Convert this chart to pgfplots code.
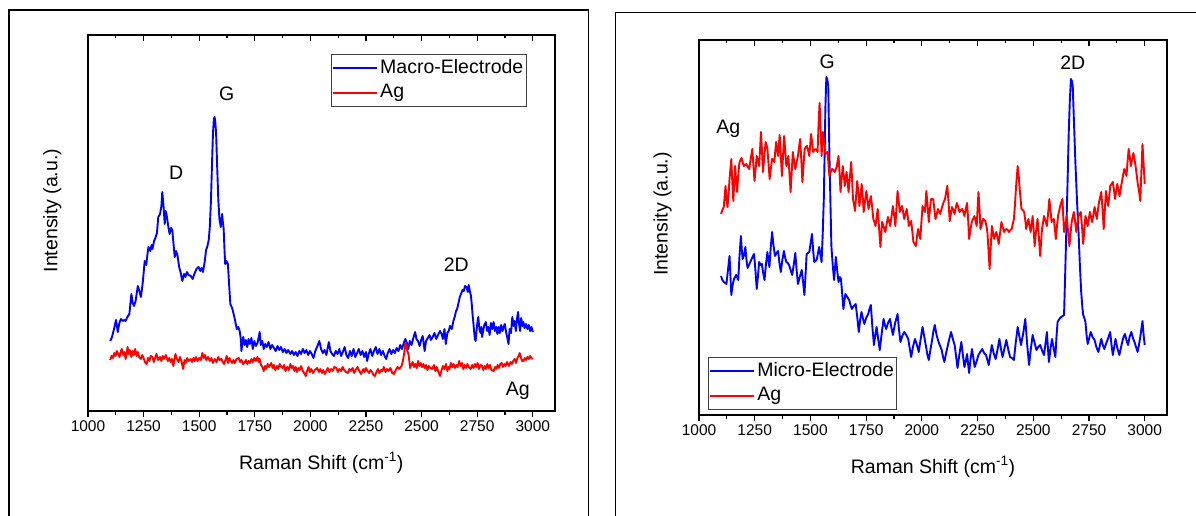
\documentclass[border=0pt]{standalone}
\usepackage{fontspec}
\setmainfont{Liberation Sans}
\usepackage{pgfplots}
\pgfplotsset{compat=1.18}
\definecolor{pblue}{RGB}{0,0,255}
\definecolor{pred}{RGB}{255,0,0}
\newcommand{\lblfont}{\fontsize{19.5bp}{23bp}\selectfont}
\newcommand{\tckfont}{\fontsize{15.5bp}{18bp}\selectfont}
\pgfplotsset{
  ramanbase/.style={
    scale only axis, xmin=1000, xmax=3100,
    xtick={1000,1250,...,3000}, minor x tick num=1,
    ytick=\empty,
    major tick length=6bp, minor tick length=3.5bp,
    line width=1.2bp,
    tick style={black, line width=1.1bp},
    /pgf/number format/assume math mode=true,
    /pgf/number format/set thousands separator={},
    xticklabel style={font=\tckfont},
    every axis plot/.append style={line width=1.9bp, line join=round},
  },
  mainax/.style={ramanbase, tick align=outside, xtick pos=bottom,
    xlabel={Raman Shift (cm\textsuperscript{-1})}, ylabel={Intensity (a.u.)},
    label style={font=\lblfont},
    legend cell align=left,
    legend style={draw=black!75, line width=1bp, font=\lblfont, inner xsep=1bp, inner ysep=2.7bp, row sep=2.5bp,
      nodes={inner sep=2bp, text height=14bp, text depth=4bp}},
    legend image code/.code={\draw[##1, line width=1.9bp] (0bp,0bp) -- (44bp,0bp);},
  },
  topax/.style={ramanbase, tick align=inside, axis x line*=top, axis y line=none, xticklabels={}},
}
\begin{document}
\begin{tikzpicture}
\useasboundingbox (0,0) rectangle (1196bp,516bp);
% ---------------- left panel ----------------
\begin{axis}[mainax, at={(88bp,105bp)}, anchor=south west, width=467bp, height=376bp, ymin=0, ymax=376,
  xlabel style={at={(axis description cs:0.4996,-0.138)}, anchor=center},
  ylabel style={at={(axis description cs:-0.0764,0.533)}, anchor=center, rotate=0},
  legend style={at={(0.520,0.9495)}, anchor=north west}]
\addplot[pblue] coordinates {
(1100,70)(1108,74)(1117,82)(1126,91)(1134,79)(1141,88)(1148,92)(1156,90)(1163,91)(1169,90)(1177,94)(1186,97)(1195,117)(1201,108)(1207,105)(1214,110)(1224,125)(1231,120)(1238,114)(1246,128)(1255,150)(1262,146)(1268,158)(1272,164)(1280,160)(1286,166)(1290,162)(1297,170)(1303,173)(1310,178)(1316,194)(1324,197)(1330,205)(1334,219)(1340,204)(1345,187)(1349,200)(1353,197)(1360,186)(1367,177)(1373,183)(1379,181)(1385,166)(1390,154)(1396,160)(1402,156)(1410,144)(1417,138)(1424,130)(1432,137)(1438,134)(1445,139)(1452,136)(1462,135)(1471,132)(1480,138)(1488,142)(1497,144)(1505,140)(1511,143)(1517,139)(1524,148)(1531,161)(1537,165)(1543,171)(1548,185)(1553,211)(1558,250)(1562,278)(1566,292)(1569,294)(1572,290)(1576,278)(1580,250)(1586,211)(1591,192)(1597,184)(1603,197)(1606,190)(1610,182)(1614,160)(1617,147)(1623,150)(1629,147)(1635,125)(1640,107)(1648,103)(1655,97)(1662,90)(1669,82)(1676,84)(1683,79)(1687,72)(1690,60)(1694,68)(1698,74)(1704,66)(1710,71)(1716,64)(1722,72)(1728,67)(1735,73)(1741,62)(1748,70)(1755,65)(1762,68)(1768,74)(1772,79)(1777,66)(1784,70)(1790,62)(1797,67)(1804,64)(1812,69)(1820,62)(1828,66)(1836,63)(1844,60)(1852,65)(1860,61)(1868,64)(1876,59)(1884,62)(1892,58)(1900,61)(1910,57)(1918,60)(1926,56)(1934,59)(1942,55)(1950,60)(1958,57)(1966,62)(1974,58)(1982,61)(1990,56)(1998,60)(2006,57)(2014,53)(2022,60)(2030,64)(2040,70)(2048,62)(2056,58)(2064,61)(2072,56)(2083,69)(2090,60)(2098,57)(2106,55)(2114,60)(2122,57)(2130,62)(2138,55)(2146,59)(2154,64)(2162,56)(2170,53)(2178,60)(2186,55)(2194,62)(2202,54)(2210,58)(2218,62)(2226,56)(2234,60)(2242,54)(2250,59)(2255,50)(2262,57)(2270,62)(2278,55)(2286,60)(2294,64)(2302,57)(2310,62)(2318,56)(2326,60)(2334,55)(2341,52)(2348,58)(2356,62)(2364,57)(2372,61)(2380,58)(2388,63)(2396,60)(2404,66)(2412,62)(2420,68)(2427,72)(2434,68)(2440,62)(2447,70)(2455,66)(2463,73)(2471,79)(2477,72)(2484,70)(2491,65)(2498,71)(2505,75)(2514,60)(2520,70)(2528,73)(2536,76)(2542,71)(2550,74)(2558,78)(2566,72)(2574,76)(2583,80)(2590,77)(2596,72)(2603,82)(2609,67)(2616,78)(2622,80)(2628,85)(2636,82)(2643,90)(2650,95)(2655,100)(2660,102)(2666,108)(2672,114)(2677,117)(2684,121)(2690,120)(2695,125)(2702,124)(2708,119)(2712,126)(2717,120)(2722,115)(2726,106)(2729,97)(2733,88)(2737,78)(2740,72)(2743,70)(2748,82)(2752,90)(2755,94)(2760,82)(2765,78)(2769,84)(2772,74)(2777,80)(2782,86)(2789,89)(2795,80)(2800,84)(2806,76)(2812,88)(2818,82)(2824,89)(2830,80)(2836,84)(2841,77)(2847,84)(2852,78)(2858,86)(2864,80)(2869,84)(2874,87)(2880,79)(2885,74)(2891,67)(2896,82)(2902,78)(2908,94)(2913,85)(2918,90)(2924,80)(2929,92)(2934,99)(2938,88)(2943,80)(2948,93)(2953,85)(2958,89)(2963,83)(2970,87)(2976,82)(2982,86)(2988,80)(2994,84)(3000,79)
};
\addlegendentry{Macro-Electrode}
\addplot[pred] coordinates {
(1100,51)(1106,55)(1112,53)(1118,58)(1124,55)(1130,60)(1136,57)(1142,54)(1148,60)(1152,62)(1158,56)(1164,59)(1169,52)(1174,58)(1178,64)(1183,57)(1188,61)(1195,54)(1200,60)(1206,56)(1212,62)(1218,55)(1224,59)(1230,54)(1238,52)(1244,56)(1250,53)(1256,49)(1264,47)(1270,53)(1276,50)(1282,55)(1290,54)(1296,49)(1302,53)(1308,57)(1315,51)(1324,54)(1330,50)(1336,55)(1342,52)(1350,56)(1359,50)(1366,53)(1372,49)(1378,52)(1384,45)(1393,57)(1400,52)(1407,49)(1414,54)(1420,50)(1428,42)(1434,51)(1440,48)(1446,53)(1452,50)(1462,52)(1468,49)(1474,53)(1480,50)(1486,54)(1492,50)(1500,53)(1507,51)(1514,58)(1520,53)(1526,56)(1532,51)(1540,54)(1548,50)(1555,53)(1562,48)(1570,52)(1578,49)(1586,54)(1592,51)(1600,52)(1606,49)(1612,47)(1618,51)(1624,55)(1630,48)(1636,53)(1642,50)(1648,48)(1654,51)(1660,48)(1668,52)(1678,53)(1684,49)(1690,51)(1697,47)(1703,48)(1710,51)(1716,47)(1722,50)(1728,48)(1735,52)(1741,49)(1748,53)(1755,50)(1762,54)(1768,49)(1772,52)(1778,46)(1784,44)(1790,40)(1796,45)(1802,42)(1808,47)(1814,44)(1824,48)(1830,43)(1836,46)(1842,41)(1850,45)(1856,42)(1862,47)(1870,44)(1876,43)(1882,46)(1888,40)(1896,44)(1903,41)(1910,47)(1916,43)(1922,45)(1928,40)(1934,44)(1940,39)(1946,43)(1952,41)(1958,45)(1966,40)(1972,38)(1979,35)(1985,40)(1992,44)(1998,39)(2004,42)(2012,38)(2020,41)(2031,43)(2038,39)(2045,42)(2052,38)(2058,41)(2065,37)(2072,40)(2078,43)(2086,39)(2093,42)(2100,40)(2108,44)(2117,43)(2124,39)(2130,42)(2138,40)(2145,44)(2152,41)(2160,39)(2169,38)(2175,42)(2182,40)(2190,43)(2197,38)(2204,41)(2212,44)(2220,40)(2228,37)(2238,42)(2244,39)(2250,43)(2257,40)(2264,38)(2270,41)(2277,39)(2284,36)(2290,35)(2297,39)(2304,42)(2310,38)(2318,41)(2324,40)(2330,44)(2338,39)(2345,42)(2352,40)(2360,43)(2368,38)(2376,37)(2384,41)(2392,44)(2400,42)(2406,44)(2410,45)(2416,50)(2422,58)(2427,68)(2431,66)(2436,60)(2441,57)(2445,50)(2448,43)(2454,46)(2460,49)(2466,44)(2472,47)(2478,43)(2484,50)(2490,45)(2496,48)(2502,44)(2508,47)(2514,43)(2520,46)(2526,41)(2532,45)(2540,43)(2548,42)(2556,46)(2562,40)(2568,44)(2576,39)(2583,35)(2590,41)(2596,45)(2602,42)(2610,47)(2616,40)(2622,44)(2626,42)(2632,48)(2638,44)(2644,47)(2650,43)(2656,46)(2662,44)(2669,50)(2676,45)(2682,48)(2688,42)(2694,46)(2700,43)(2706,47)(2712,44)(2721,42)(2728,46)(2734,43)(2740,47)(2746,44)(2752,48)(2758,42)(2764,46)(2772,45)(2778,41)(2784,45)(2790,42)(2796,47)(2802,43)(2808,46)(2814,41)(2824,40)(2830,44)(2836,42)(2842,46)(2848,43)(2854,47)(2860,48)(2866,44)(2872,47)(2878,45)(2884,49)(2893,45)(2900,49)(2906,47)(2912,50)(2919,52)(2925,48)(2931,53)(2937,55)(2941,58)(2946,54)(2952,50)(2958,50)(2964,53)(2970,51)(2976,54)(2982,52)(2988,55)(2994,53)(3000,52)
};
\addlegendentry{Ag}
\node[font=\lblfont] at (axis cs:1396,238) {D};
\node[font=\lblfont] at (axis cs:1624,317.5) {G};
\node[font=\lblfont] at (axis cs:2656,146) {2D};
\node[font=\lblfont] at (axis cs:2933,20.5) {Ag};
\end{axis}
\begin{axis}[topax, at={(88bp,105bp)}, anchor=south west, width=467bp, height=376bp, ymin=0, ymax=376]
\addplot[draw=none] coordinates {(1000,0)};
\end{axis}
% ---------------- right panel ----------------
\begin{axis}[mainax, at={(699bp,101bp)}, anchor=south west, width=468bp, height=375bp, ymin=0, ymax=375,
  xlabel style={at={(axis description cs:0.5,-0.1387)}, anchor=center},
  ylabel style={at={(axis description cs:-0.078,0.536)}, anchor=center, rotate=0},
  legend style={at={(0.0192,0.1547)}, anchor=north west}]
\addplot[pblue] coordinates {
(1099,139)(1105,135)(1111,133)(1117,132)(1123,131)(1130,145)(1137,159)(1145,120)(1151,130)(1157,136)(1162,138)(1167,140)(1172,137)(1176,135)(1182,160)(1188,179)(1192,165)(1196,156)(1202,160)(1208,168)(1213,155)(1218,147)(1224,150)(1230,153)(1238,157)(1247,161)(1253,145)(1259,126)(1265,140)(1270,153)(1276,150)(1282,151)(1288,142)(1294,135)(1300,150)(1307,163)(1311,155)(1316,148)(1322,168)(1328,183)(1334,170)(1341,159)(1348,162)(1355,164)(1361,152)(1367,143)(1374,155)(1381,164)(1386,158)(1392,153)(1398,152)(1404,150)(1411,145)(1418,140)(1425,150)(1432,162)(1438,145)(1444,131)(1452,138)(1461,145)(1467,133)(1473,120)(1478,140)(1483,161)(1489,162)(1495,163)(1501,172)(1507,181)(1512,165)(1517,153)(1523,154)(1529,156)(1534,162)(1539,168)(1545,160)(1550,153)(1555,180)(1560,216)(1564,265)(1567,306)(1570,330)(1572,338)(1576,335)(1580,329)(1585,262)(1590,210)(1594,169)(1600,150)(1606,135)(1610,146)(1614,158)(1620,145)(1626,133)(1632,138)(1637,136)(1643,120)(1648,106)(1653,115)(1657,121)(1665,118)(1674,115)(1680,110)(1686,106)(1694,109)(1703,111)(1710,98)(1717,83)(1723,95)(1729,103)(1736,96)(1742,91)(1750,97)(1759,101)(1765,106)(1771,110)(1778,88)(1785,70)(1791,80)(1797,88)(1804,76)(1811,65)(1820,82)(1828,96)(1834,90)(1840,86)(1848,92)(1857,96)(1863,88)(1870,80)(1880,92)(1891,101)(1897,86)(1904,73)(1912,79)(1921,83)(1930,80)(1939,76)(1946,66)(1952,58)(1960,68)(1969,76)(1978,70)(1986,63)(1994,75)(2003,88)(2011,78)(2019,68)(2025,60)(2031,55)(2039,66)(2046,75)(2052,84)(2058,90)(2066,80)(2075,73)(2082,69)(2089,65)(2095,58)(2101,53)(2107,60)(2113,66)(2122,75)(2131,83)(2139,76)(2147,70)(2154,58)(2160,47)(2168,60)(2177,73)(2184,60)(2191,48)(2197,54)(2203,61)(2208,50)(2212,42)(2218,55)(2225,66)(2231,57)(2237,48)(2246,54)(2254,60)(2262,63)(2271,66)(2279,62)(2288,60)(2294,55)(2300,50)(2307,60)(2314,70)(2322,62)(2331,56)(2340,66)(2348,76)(2355,66)(2362,58)(2370,66)(2379,75)(2388,65)(2396,58)(2404,57)(2413,55)(2421,72)(2430,88)(2438,78)(2445,70)(2455,82)(2464,96)(2472,72)(2481,50)(2489,66)(2497,80)(2506,72)(2514,65)(2522,68)(2531,70)(2540,64)(2548,60)(2555,72)(2561,83)(2566,66)(2570,53)(2577,66)(2584,76)(2592,66)(2599,58)(2604,78)(2609,93)(2617,96)(2625,98)(2632,99)(2638,100)(2643,140)(2648,183)(2654,235)(2659,282)(2664,315)(2669,336)(2673,334)(2677,329)(2683,290)(2689,252)(2696,215)(2703,183)(2709,150)(2715,123)(2720,108)(2724,100)(2729,97)(2734,93)(2739,80)(2744,71)(2751,77)(2758,83)(2766,78)(2775,75)(2783,68)(2792,63)(2799,70)(2805,76)(2812,70)(2819,66)(2826,71)(2833,75)(2839,79)(2845,83)(2851,70)(2857,60)(2863,68)(2869,76)(2877,67)(2886,60)(2892,66)(2899,73)(2905,78)(2911,81)(2918,75)(2925,70)(2932,78)(2940,83)(2947,77)(2954,73)(2961,68)(2968,63)(2974,70)(2980,78)(2985,86)(2990,94)(2995,80)(3000,70)
};
\addlegendentry{Micro-Electrode}
\addplot[pred] coordinates {
(1099,201)(1105,205)(1111,208)(1115,218)(1119,229)(1124,215)(1128,208)(1133,222)(1137,236)(1141,246)(1145,256)(1150,230)(1154,214)(1158,232)(1162,249)(1166,236)(1171,223)(1176,240)(1181,252)(1186,255)(1191,257)(1196,253)(1201,249)(1207,250)(1213,251)(1219,248)(1225,246)(1232,256)(1239,266)(1244,250)(1249,234)(1254,246)(1259,259)(1265,254)(1270,249)(1274,266)(1278,283)(1283,263)(1287,243)(1293,258)(1299,273)(1303,270)(1307,266)(1312,251)(1317,236)(1322,246)(1328,256)(1333,255)(1338,253)(1342,263)(1346,273)(1350,266)(1355,259)(1358,270)(1362,280)(1367,260)(1372,239)(1377,259)(1382,279)(1387,264)(1392,249)(1396,254)(1401,259)(1406,241)(1411,223)(1416,243)(1421,263)(1426,255)(1432,246)(1438,253)(1444,259)(1449,268)(1454,276)(1459,255)(1464,233)(1469,250)(1474,266)(1480,268)(1485,269)(1490,264)(1495,259)(1499,270)(1503,281)(1508,272)(1512,263)(1517,265)(1522,266)(1527,265)(1532,263)(1536,288)(1541,312)(1546,286)(1550,259)(1553,271)(1556,283)(1562,272)(1567,261)(1572,262)(1577,263)(1581,251)(1585,239)(1591,243)(1597,246)(1603,245)(1609,243)(1614,246)(1618,248)(1622,254)(1626,259)(1631,241)(1635,223)(1640,236)(1645,249)(1650,239)(1654,229)(1658,236)(1662,243)(1667,233)(1671,223)(1677,238)(1683,253)(1687,235)(1691,216)(1696,210)(1700,204)(1705,219)(1710,234)(1715,222)(1720,209)(1725,220)(1730,231)(1735,217)(1739,203)(1745,214)(1751,224)(1756,215)(1761,206)(1766,213)(1771,219)(1777,208)(1782,196)(1787,193)(1792,189)(1797,198)(1802,206)(1808,187)(1814,168)(1818,181)(1822,193)(1829,188)(1836,183)(1842,191)(1848,198)(1853,194)(1858,189)(1864,199)(1870,209)(1876,199)(1881,189)(1886,207)(1891,224)(1896,214)(1901,203)(1906,206)(1911,209)(1916,203)(1921,196)(1927,201)(1932,206)(1937,198)(1942,189)(1947,192)(1952,194)(1957,184)(1962,173)(1968,171)(1973,169)(1978,178)(1983,186)(1988,181)(1993,176)(1998,193)(2003,209)(2008,206)(2014,203)(2017,214)(2020,224)(2026,209)(2031,193)(2036,205)(2041,216)(2046,216)(2051,216)(2056,206)(2061,196)(2067,201)(2072,206)(2077,204)(2082,201)(2087,205)(2092,209)(2098,213)(2104,216)(2109,223)(2114,229)(2120,212)(2125,194)(2130,201)(2135,208)(2141,205)(2147,201)(2152,207)(2157,212)(2163,208)(2169,203)(2175,205)(2181,206)(2186,203)(2191,199)(2197,206)(2203,212)(2208,194)(2212,176)(2218,185)(2224,193)(2230,196)(2236,199)(2241,194)(2246,189)(2250,206)(2254,223)(2259,205)(2263,186)(2269,191)(2275,196)(2280,195)(2285,194)(2290,189)(2294,183)(2299,165)(2304,146)(2309,168)(2314,189)(2319,183)(2324,176)(2329,180)(2334,183)(2340,177)(2345,171)(2351,182)(2357,193)(2363,188)(2369,183)(2374,185)(2379,186)(2385,185)(2391,183)(2397,185)(2403,186)(2408,191)(2413,196)(2418,211)(2422,226)(2426,238)(2430,249)(2435,238)(2439,226)(2443,216)(2447,206)(2453,205)(2459,203)(2464,195)(2468,186)(2473,191)(2478,196)(2483,190)(2488,183)(2493,191)(2497,199)(2502,184)(2506,169)(2512,183)(2519,196)(2525,178)(2531,159)(2535,173)(2539,186)(2544,193)(2548,199)(2555,194)(2561,189)(2567,203)(2572,216)(2577,205)(2582,193)(2587,195)(2592,196)(2597,186)(2601,176)(2606,188)(2611,199)(2616,204)(2621,209)(2626,213)(2631,216)(2634,200)(2638,183)(2644,191)(2650,199)(2656,184)(2662,169)(2667,181)(2672,193)(2677,198)(2682,203)(2688,193)(2693,183)(2698,191)(2703,199)(2708,201)(2713,203)(2719,187)(2724,171)(2729,185)(2734,199)(2739,194)(2744,189)(2749,196)(2754,203)(2759,198)(2764,193)(2770,201)(2775,208)(2780,202)(2785,196)(2790,205)(2795,213)(2800,218)(2805,223)(2811,205)(2816,186)(2821,205)(2826,224)(2831,217)(2836,209)(2841,219)(2845,229)(2851,231)(2857,233)(2862,225)(2867,216)(2872,224)(2877,231)(2882,225)(2887,219)(2893,227)(2898,234)(2903,240)(2908,246)(2913,243)(2918,239)(2923,253)(2928,266)(2933,258)(2938,249)(2944,256)(2949,262)(2954,256)(2959,249)(2964,240)(2969,231)(2975,223)(2980,214)(2985,243)(2990,271)(2995,251)(3000,231)
};
\addlegendentry{Ag}
\node[font=\lblfont] at (axis cs:1575,353.4) {G};
\node[font=\lblfont] at (axis cs:2677,352) {2D};
\node[font=\lblfont] at (axis cs:1131,286) {Ag};
\end{axis}
\begin{axis}[topax, at={(699bp,101bp)}, anchor=south west, width=468bp, height=375bp, ymin=0, ymax=375]
\addplot[draw=none] coordinates {(1000,0)};
\end{axis}
% ---------------- outer frames ----------------
\draw[line width=1.5bp] (9bp,-5bp) -- (9bp,506bp) -- (588.5bp,506bp) -- (588.5bp,-5bp);
\draw[line width=1.5bp] (615.3bp,-5bp) -- (615.3bp,503.3bp) -- (1205bp,503.3bp);
\end{tikzpicture}
\end{document}
